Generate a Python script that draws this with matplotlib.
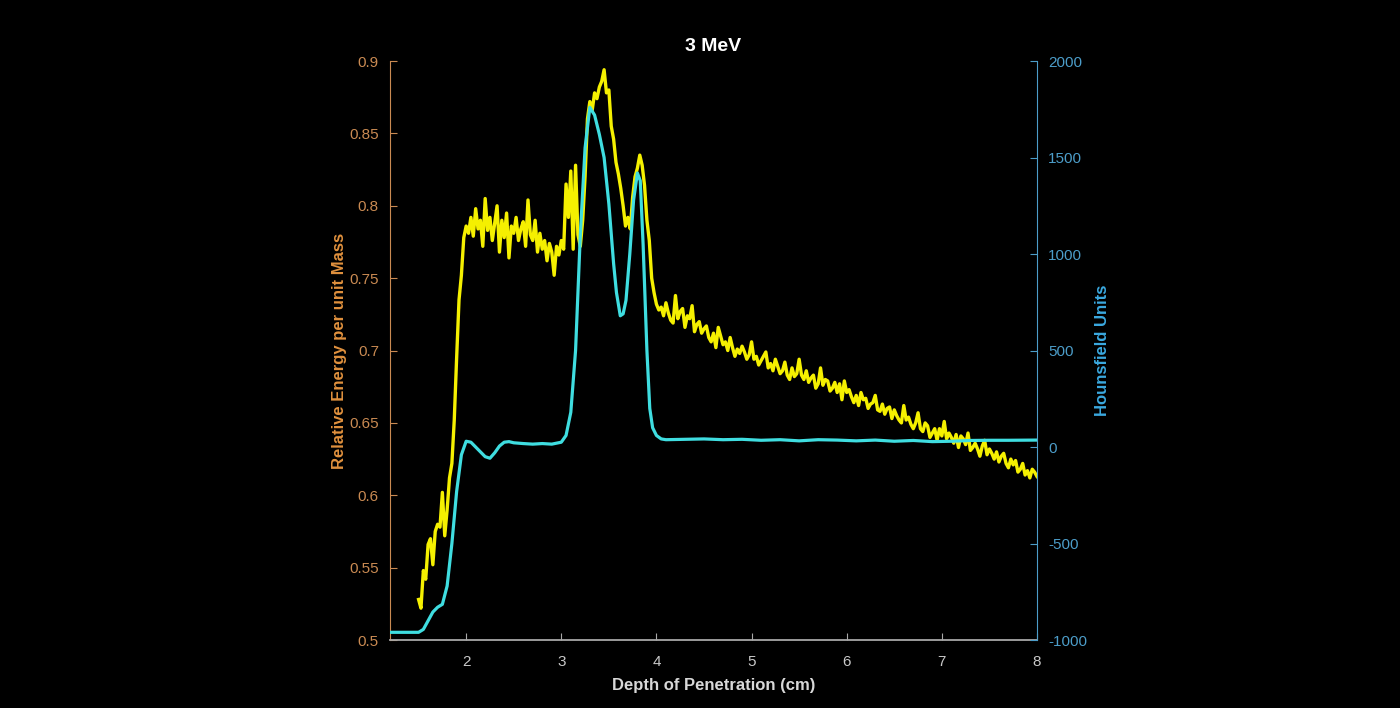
import numpy as np
import matplotlib
matplotlib.use("Agg")
import matplotlib.pyplot as plt

plt.rcParams["font.family"] = ["Liberation Sans", "DejaVu Sans"]
plt.rcParams["axes.unicode_minus"] = False

# depth samples for the dose curve (cm), 0.025 cm bins from 1.5 to 8.0
depth = np.arange(261) * 0.025 + 1.5

# relative energy per unit mass
energy = [
    0.528, 0.522, 0.548, 0.542, 0.566, 0.570, 0.552, 0.575, 0.580, 0.578,
    0.602, 0.572, 0.590, 0.612, 0.622, 0.652, 0.695, 0.735, 0.752, 0.778,
    0.786, 0.781, 0.792, 0.779, 0.798, 0.784, 0.790, 0.772, 0.805, 0.783,
    0.792, 0.776, 0.788, 0.800, 0.768, 0.790, 0.778, 0.795, 0.764, 0.786,
    0.781, 0.792, 0.776, 0.784, 0.789, 0.772, 0.804, 0.780, 0.776, 0.790,
    0.768, 0.781, 0.770, 0.776, 0.762, 0.774, 0.768, 0.752, 0.772, 0.766,
    0.776, 0.770, 0.815, 0.792, 0.824, 0.770, 0.828, 0.780, 0.772, 0.790,
    0.820, 0.860, 0.872, 0.866, 0.878, 0.874, 0.882, 0.886, 0.894, 0.878,
    0.880, 0.855, 0.846, 0.830, 0.822, 0.812, 0.800, 0.786, 0.792, 0.784,
    0.806, 0.820, 0.826, 0.835, 0.828, 0.814, 0.790, 0.776, 0.750, 0.740,
    0.732, 0.728, 0.730, 0.724, 0.733, 0.726, 0.721, 0.719, 0.738, 0.722,
    0.727, 0.729, 0.716, 0.724, 0.722, 0.731, 0.713, 0.718, 0.720, 0.712,
    0.715, 0.717, 0.709, 0.706, 0.712, 0.702, 0.716, 0.710, 0.704, 0.706,
    0.700, 0.709, 0.702, 0.696, 0.701, 0.698, 0.703, 0.699, 0.694, 0.697,
    0.706, 0.694, 0.696, 0.690, 0.693, 0.696, 0.699, 0.688, 0.691, 0.686,
    0.694, 0.689, 0.684, 0.686, 0.692, 0.683, 0.680, 0.688, 0.682, 0.684,
    0.694, 0.683, 0.680, 0.686, 0.678, 0.681, 0.683, 0.674, 0.677, 0.688,
    0.676, 0.680, 0.679, 0.672, 0.674, 0.678, 0.671, 0.677, 0.666, 0.679,
    0.671, 0.673, 0.668, 0.664, 0.669, 0.662, 0.671, 0.666, 0.667, 0.660,
    0.663, 0.664, 0.669, 0.659, 0.658, 0.663, 0.656, 0.660, 0.661, 0.653,
    0.659, 0.655, 0.652, 0.650, 0.662, 0.652, 0.654, 0.649, 0.646, 0.650,
    0.657, 0.646, 0.644, 0.650, 0.648, 0.640, 0.643, 0.646, 0.638, 0.646,
    0.641, 0.651, 0.639, 0.643, 0.640, 0.636, 0.642, 0.633, 0.641, 0.639,
    0.635, 0.643, 0.631, 0.633, 0.636, 0.632, 0.627, 0.634, 0.638, 0.628,
    0.632, 0.629, 0.625, 0.630, 0.623, 0.627, 0.629, 0.622, 0.619, 0.625,
    0.621, 0.624, 0.616, 0.618, 0.622, 0.614, 0.617, 0.612, 0.618, 0.616,
    0.613,
]

# Hounsfield profile along the same path
hu_depth = [
    1.20, 1.50, 1.55, 1.60, 1.65, 1.70, 1.75, 1.80, 1.85, 1.90,
    1.95, 2.00, 2.05, 2.10, 2.15, 2.20, 2.25, 2.30, 2.35, 2.40,
    2.45, 2.50, 2.60, 2.70, 2.80, 2.90, 3.00, 3.05, 3.10, 3.15,
    3.20, 3.25, 3.30, 3.35, 3.40, 3.45, 3.50, 3.55, 3.58, 3.62,
    3.65, 3.68, 3.72, 3.76, 3.80, 3.83, 3.86, 3.90, 3.93, 3.96,
    4.00, 4.05, 4.10, 4.30, 4.50, 4.70, 4.90, 5.10, 5.30, 5.50,
    5.70, 5.90, 6.10, 6.30, 6.50, 6.70, 6.90, 7.10, 7.30, 7.50,
    7.70, 8.00,
]
hu = [
    -960, -960, -945, -900, -855, -830, -815, -720, -500, -230,
    -40, 30, 25, 0, -25, -50, -58, -30, 5, 25,
    28, 22, 18, 15, 18, 15, 25, 60, 180, 500,
    1100, 1550, 1760, 1720, 1620, 1500, 1260, 950, 800, 680,
    690, 760, 1000, 1280, 1420, 1380, 1050, 500, 200, 100,
    60, 42, 38, 40, 42, 38, 40, 35, 38, 32,
    38, 36, 32, 36, 30, 34, 28, 30, 34, 35,
    35, 36,
]

left_col = "#c98a52"
right_col = "#4c9dc9"
axis_gray = "#a8a8a8"

fig = plt.figure(figsize=(14, 7.08), dpi=100, facecolor="black")
ax = fig.add_axes([0.2786, 0.0960, 0.4621, 0.8178])
ax.set_facecolor("black")
ax2 = ax.twinx()

ax.plot(depth, energy, color="#f5f000", lw=2.4)
ax2.plot(hu_depth, hu, color="#3fdde0", lw=2.3)

ax.set_xlim(1.2, 8)
ax.set_ylim(0.5, 0.9)
ax2.set_ylim(-1000, 2000)
ax.set_xticks([2, 3, 4, 5, 6, 7, 8])
ax.set_yticks([0.5, 0.55, 0.6, 0.65, 0.7, 0.75, 0.8, 0.85, 0.9])
ax.set_yticklabels(["0.5", "0.55", "0.6", "0.65", "0.7", "0.75", "0.8", "0.85", "0.9"])
ax2.set_yticks([-1000, -500, 0, 500, 1000, 1500, 2000])

ax.spines["top"].set_visible(False)
ax2.spines["top"].set_visible(False)
ax.spines["right"].set_visible(False)
ax2.spines["left"].set_visible(False)
ax2.spines["bottom"].set_visible(False)
ax.spines["left"].set_color(left_col)
ax2.spines["right"].set_color(right_col)
ax.spines["bottom"].set_color(axis_gray)
ax.spines["bottom"].set_linewidth(1.3)

ax.tick_params(axis="x", direction="in", colors="#c8c8c8", labelsize=11, length=5, pad=11)
ax.tick_params(axis="x", color=axis_gray)
ax.tick_params(axis="y", direction="in", colors=left_col, labelsize=11, length=5, pad=8)
ax2.tick_params(axis="y", direction="in", colors=right_col, labelsize=11, length=5, pad=8)

ax.set_xlabel("Depth of Penetration (cm)", color="#d8d8d8", fontsize=12, fontweight="bold", labelpad=6)
ax.set_ylabel("Relative Energy per unit Mass", color="#e0913e", fontsize=12, fontweight="bold", labelpad=2)
ax2.set_ylabel("Hounsfield Units", color="#3ba9e0", fontsize=12, fontweight="bold", labelpad=6)
ax.set_title("3 MeV", color="white", fontsize=14, fontweight="bold", pad=7)

fig.savefig("out.png", dpi=100, facecolor="black")
